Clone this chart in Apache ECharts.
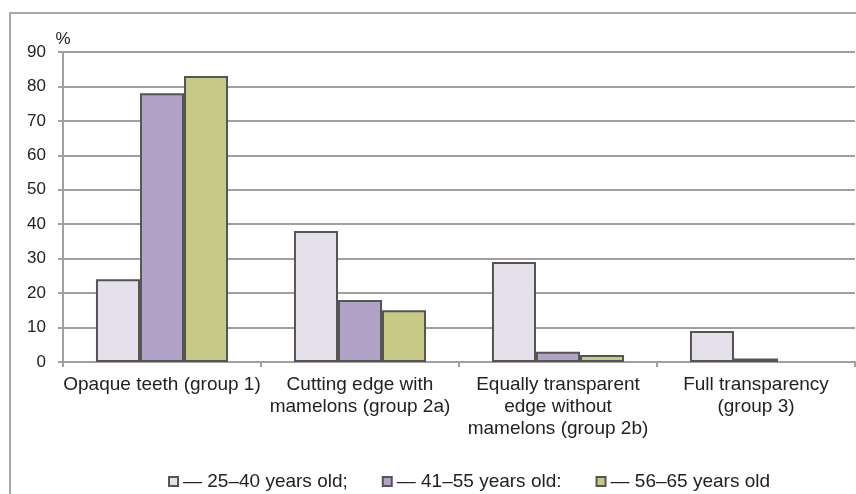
<!DOCTYPE html>
<html><head><meta charset="utf-8">
<script src="https://cdn.jsdelivr.net/npm/echarts@6/dist/echarts.min.js"></script>
<style>html,body{margin:0;padding:0;background:#fff}#c{width:856px;height:494px}</style>
</head><body><div id="c"></div>
<script>
const categories = ["Opaque teeth (group 1)", "Cutting edge with\nmamelons (group 2a)", "Equally transparent\nedge without\nmamelons (group 2b)", "Full transparency\n(group 3)"];
const seriesNames = ["25–40 years old", "41–55 years old", "56–65 years old"];
const legendLabels = ["— 25–40 years old;", "— 41–55 years old:", "— 56–65 years old"];
const age25to40 = [24, 38, 29, 9];
const age41to55 = [78, 18, 3, 1];
const age56to65 = [83, 15, 2, 0];
const yTicks = {min: 0, max: 90, interval: 10};
const colors = ["#E5E0EC", "#B3A2C7", "#C8C987"];
const values = [age25to40, age41to55, age56to65];

const chart = echarts.init(document.getElementById('c'));
chart.setOption({
  animation: false,
  textStyle: {fontFamily: 'Liberation Sans, Arial, sans-serif'},
  graphic: [{type: 'rect', shape: {x: 10, y: 13, width: 900, height: 520}, style: {fill: 'none', stroke: '#a8a8a8', lineWidth: 2}, silent: true}],
  grid: {left: 63, right: 1, top: 52, bottom: 132, containLabel: false},
  legend: {
    left: 163, top: 467, itemWidth: 9, itemHeight: 9, itemGap: 34,
    icon: 'rect',
    data: seriesNames,
    formatter: function (n) { return legendLabels[seriesNames.indexOf(n)]; },
    textStyle: {fontSize: 19, color: '#222'}
  },
  xAxis: {
    type: 'category', data: categories,
    axisLine: {lineStyle: {color: '#a0a0a0', width: 2}},
    axisTick: {show: true, length: 5, lineStyle: {color: '#a0a0a0', width: 2}},
    axisLabel: {fontSize: 19, color: '#222', lineHeight: 22, margin: 12, interval: 0}
  },
  yAxis: {
    type: 'value', min: yTicks.min, max: yTicks.max, interval: yTicks.interval,
    name: '%', nameLocation: 'end', nameGap: 4,
    nameTextStyle: {fontSize: 17, color: '#222', align: 'center'},
    axisLine: {show: true, lineStyle: {color: '#a0a0a0', width: 2}},
    axisTick: {show: true, length: 5, lineStyle: {color: '#a0a0a0', width: 2}},
    splitLine: {lineStyle: {color: '#a0a0a0', width: 2}},
    axisLabel: {fontSize: 17, color: '#222', margin: 17}
  },
  series: seriesNames.map((n, i) => ({
    name: n, type: 'bar',
    data: values[i].map(v => v === 0 ? {value: v, itemStyle: {borderWidth: 0}} : v),
    barGap: '0%', barCategoryGap: '33.3%',
    itemStyle: {color: colors[i], borderColor: '#555', borderWidth: 2}
  }))
});
</script></body></html>
